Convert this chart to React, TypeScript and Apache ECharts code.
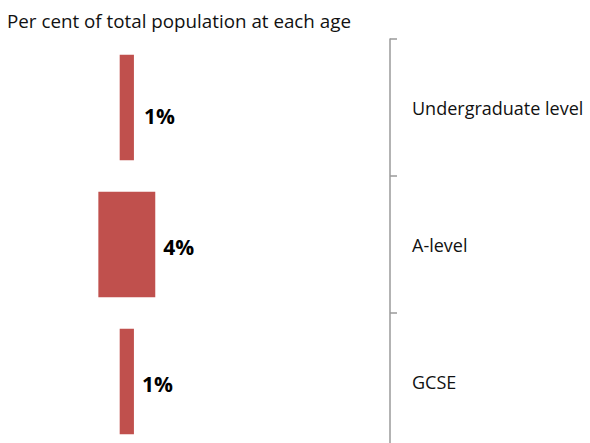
import React, { useEffect, useRef } from "react";
import * as echarts from "echarts";

const categories = ["Undergraduate level", "A-level", "GCSE"];
const values = [1, 4, 1];
const titleText = "Per cent of total population at each age";
const centre = 10;

export default function App() {
  const ref = useRef<HTMLDivElement>(null);
  useEffect(() => {
    document.body.style.margin = "0";
    document.body.style.overflow = "hidden";
    const chart = echarts.init(ref.current!, undefined, { renderer: "svg" });
    const font = "'Open Sans', sans-serif";
    chart.setOption({
      animation: false,
      backgroundColor: "#ffffff",
      title: {
        text: titleText,
        left: 7,
        top: 11,
        padding: 0,
        textStyle: { fontSize: 18.8, fontWeight: "normal", color: "#111", fontFamily: font },
      },
      grid: { left: 13, right: 200, top: 39, height: 411, containLabel: false },
      xAxis: {
        type: "value",
        min: centre - 8,
        max: centre + 18.5,
        show: false,
        splitLine: { show: false },
      },
      yAxis: {
        type: "category",
        position: "right",
        inverse: true,
        data: categories,
        axisLine: { show: true, onZero: false, lineStyle: { color: "#9a9a9a", width: 1.5 } },
        axisTick: { show: true, length: 7, lineStyle: { color: "#9a9a9a", width: 1.5 } },
        axisLabel: { margin: 22, fontSize: 18, color: "#111", fontFamily: font },
        splitLine: { show: false },
      },
      series: [
        {
          type: "bar",
          stack: "s",
          data: values.map((v) => centre - v / 2),
          itemStyle: { color: "rgba(0,0,0,0)" },
          barCategoryGap: "23%",
          silent: true,
        },
        {
          type: "bar",
          stack: "s",
          data: values.map((v, i) => (i === 0 ? { value: v, label: { offset: [2, 8] } } : v)),
          itemStyle: { color: "#C0504D" },
          barCategoryGap: "23%",
          label: {
            show: true,
            position: "right",
            distance: 8,
            offset: [0, 2],
            formatter: (p: any) => `${values[p.dataIndex]}%`,
            fontSize: 21,
            fontWeight: "bold",
            color: "#000",
            fontFamily: font,
          },
        },
      ],
    });
    return () => chart.dispose();
  }, []);
  return <div ref={ref} style={{ width: 590, height: 460 }} />;
}
